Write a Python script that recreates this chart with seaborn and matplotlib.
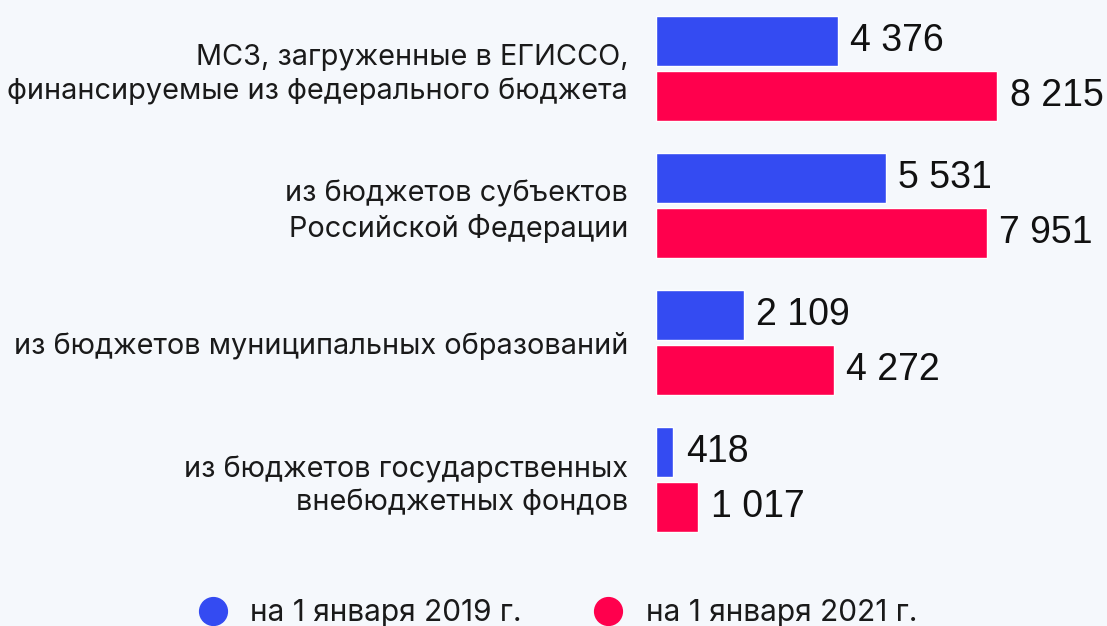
import matplotlib
matplotlib.use("Agg")
import matplotlib.pyplot as plt
from matplotlib.lines import Line2D
import seaborn as sns
import pandas as pd

categories = [
    "МСЗ, загруженные в ЕГИССО,\nфинансируемые из федерального бюджета",
    "из бюджетов субъектов\nРоссийской Федерации",
    "из бюджетов муниципальных образований",
    "из бюджетов государственных\nвнебюджетных фондов",
]
series = ["на 1 января 2019 г.", "на 1 января 2021 г."]
values_2019 = [4376, 5531, 2109, 418]
values_2021 = [8215, 7951, 4272, 1017]

BLUE = "#344BF2"
RED = "#FF004D"
BG = "#F5F8FC"

df = pd.DataFrame({
    "cat": categories * 2,
    "series": [series[0]] * 4 + [series[1]] * 4,
    "value": values_2019 + values_2021,
})

sns.set_theme(style="white")
plt.rcParams["font.family"] = ["Inter", "DejaVu Sans"]

W, H = 1107, 626
fig = plt.figure(figsize=(W / 100, H / 100), dpi=100, facecolor=BG)
ax = fig.add_axes([656 / W, 0, 451 / W, 1])
ax.set_facecolor("none")

sns.barplot(data=df, y="cat", x="value", hue="series", orient="h",
            palette=[BLUE, RED], width=0.803, gap=0.09, ax=ax,
            legend=False, saturation=1)

px_per_unit = 0.04157
ax.set_xlim(0, 451 / px_per_unit)
ax.set_ylim(4.069, -0.5)

for cont in ax.containers:
    labels = [f"{int(round(v)):,}".replace(",", " ") for v in cont.datavalues]
    ax.bar_label(cont, labels=labels, padding=9, fontsize=27,
                 family=["Liberation Sans", "DejaVu Sans"], color="#111111")

for s in ax.spines.values():
    s.set_visible(False)
ax.set_xticks([])
ax.set_xlabel("")
ax.set_ylabel("")
ax.tick_params(axis="y", length=0, pad=20)
for lab in ax.get_yticklabels():
    lab.set_fontsize(20.8)
    lab.set_color("#1a1a1a")
    lab.set_horizontalalignment("right")
    lab.set_multialignment("right")
    lab.set_linespacing(1.27)

handles = [Line2D([], [], marker="o", ls="", color=c, markersize=20) for c in (BLUE, RED)]
fig.legend(handles, series, loc="center", bbox_to_anchor=(0.497, 0.02), ncol=2,
           frameon=False, fontsize=21.5, handletextpad=0.25, columnspacing=1.9,
           labelcolor="#1a1a1a")

fig.savefig("out.png", dpi=100, facecolor=BG)
